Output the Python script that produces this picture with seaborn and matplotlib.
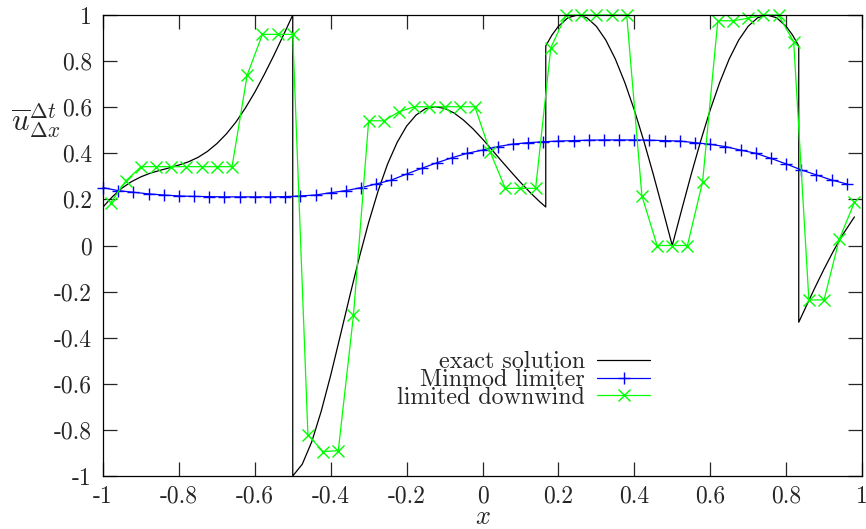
import numpy as np
import pandas as pd
import matplotlib
matplotlib.use("Agg")
import matplotlib.pyplot as plt
import seaborn as sns

# ---- data ----
# exact solution, four smooth pieces (jumps at -0.5, 1/6, 5/6)
xa = [-1.0, -0.975, -0.95, -0.925, -0.9, -0.875, -0.85, -0.825, -0.8, -0.775, -0.75,
      -0.725, -0.7, -0.675, -0.65, -0.625, -0.6, -0.575, -0.55, -0.525, -0.5]
ua = [0.167, 0.212, 0.249, 0.277, 0.298, 0.314, 0.326, 0.337, 0.349, 0.363, 0.382,
      0.408, 0.442, 0.484, 0.535, 0.596, 0.665, 0.742, 0.824, 0.911, 1.0]
xb = [-0.5, -0.475, -0.45, -0.425, -0.4, -0.375, -0.35, -0.325, -0.3, -0.275, -0.25,
      -0.225, -0.2, -0.175, -0.15, -0.125, -0.1, -0.075, -0.05, -0.025, 0.0, 0.025,
      0.05, 0.075, 0.1, 0.125, 0.15, 0.1667]
ub = [-1.0, -0.949, -0.852, -0.719, -0.563, -0.393, -0.221, -0.054, 0.100, 0.237, 0.354,
      0.447, 0.518, 0.566, 0.594, 0.602, 0.595, 0.575, 0.544, 0.506, 0.462, 0.415,
      0.367, 0.320, 0.274, 0.231, 0.191, 0.167]
xc = [0.1667, 0.183, 0.2, 0.225, 0.25, 0.275, 0.3, 0.325, 0.35, 0.375, 0.4, 0.425, 0.45,
      0.475, 0.5, 0.525, 0.55, 0.575, 0.6, 0.625, 0.65, 0.675, 0.7, 0.725, 0.75, 0.775,
      0.8, 0.817, 0.8333]
uc = [0.866, 0.913, 0.951, 0.988, 1.0, 0.988, 0.951, 0.891, 0.809, 0.707, 0.588, 0.454, 0.309,
      0.156, 0.0, 0.156, 0.309, 0.454, 0.588, 0.707, 0.809, 0.891, 0.951, 0.988, 1.0, 0.988,
      0.951, 0.913, 0.866]
xd = [0.8333, 0.85, 0.875, 0.9, 0.925, 0.95, 0.98]
ud = [-0.333, -0.274, -0.186, -0.102, -0.023, 0.049, 0.124]

# Minmod limiter (points at -1, -0.96, ..., 0.96)
x_minmod = [round(-1.0 + 0.04 * k, 2) for k in range(50)]
u_minmod = [0.251, 0.238, 0.231, 0.224, 0.219, 0.215, 0.213, 0.212, 0.211, 0.211,
            0.211, 0.211, 0.212, 0.215, 0.219, 0.229, 0.238, 0.251, 0.267, 0.284,
            0.310, 0.335, 0.359, 0.381, 0.400, 0.414, 0.429, 0.440, 0.446, 0.450,
            0.453, 0.455, 0.457, 0.458, 0.458, 0.458, 0.457, 0.455, 0.453, 0.446,
            0.439, 0.429, 0.414, 0.400, 0.378, 0.354, 0.328, 0.306, 0.284, 0.267]

# limited downwind (points at -0.98, -0.94, ..., 0.98)
x_down = [round(-0.98 + 0.04 * k, 2) for k in range(50)]
u_down = [0.185, 0.280, 0.342, 0.342, 0.342, 0.342, 0.342, 0.342, 0.342, 0.740,
          0.916, 0.916, 0.916, -0.822, -0.894, -0.890, -0.302, 0.541, 0.541, 0.580,
          0.602, 0.602, 0.602, 0.602, 0.602, 0.407, 0.248, 0.248, 0.248, 0.858,
          1.0, 1.0, 1.0, 1.0, 1.0, 0.216, 0.0, 0.0, 0.0, 0.277,
          0.975, 0.975, 0.986, 1.0, 1.0, 0.884, -0.236, -0.236, 0.027, 0.187]

xticks = [-1, -0.8, -0.6, -0.4, -0.2, 0, 0.2, 0.4, 0.6, 0.8, 1]
xticklabels = ["-1", "-0.8", "-0.6", "-0.4", "-0.2", "0", "0.2", "0.4", "0.6", "0.8", "1"]
yticks = [-1, -0.8, -0.6, -0.4, -0.2, 0, 0.2, 0.4, 0.6, 0.8, 1]
yticklabels = ["-1", "-0.8", "-0.6", "-0.4", "-0.2", "0", "0.2", "0.4", "0.6", "0.8", "1"]

# ---- style ----
sns.set_style("ticks")
plt.rcParams["font.family"] = ["cmr10", "DejaVu Serif"]
plt.rcParams["mathtext.fontset"] = "cm"
plt.rcParams["axes.formatter.use_mathtext"] = True
plt.rcParams["axes.unicode_minus"] = False
FS = 17
BLUE = "#0000ff"
GREEN = "#00ff00"

fig = plt.figure(figsize=(8.66, 5.29), dpi=100)
ax = fig.add_axes([103 / 866, 1 - 476 / 529, 759 / 866, 461 / 529])

exact = pd.DataFrame({"x": xa + xb + xc + xd, "u": ua + ub + uc + ud})
minmod = pd.DataFrame({"x": x_minmod, "u": u_minmod})
down = pd.DataFrame({"x": x_down, "u": u_down})

sns.lineplot(data=exact, x="x", y="u", sort=False, estimator=None, ax=ax,
             color="black", lw=0.9, label="exact solution")
sns.lineplot(data=minmod, x="x", y="u", sort=False, estimator=None, ax=ax,
             color=BLUE, lw=0.9, marker="+", markersize=9, markeredgewidth=1.0,
             markeredgecolor=BLUE, label="Minmod limiter", clip_on=False)
sns.lineplot(data=down, x="x", y="u", sort=False, estimator=None, ax=ax,
             color=GREEN, lw=0.9, marker="x", markersize=8, markeredgewidth=1.0,
             markeredgecolor=GREEN, label="limited downwind", clip_on=False)

ax.set_xlim(-1, 1)
ax.set_ylim(-1, 1)
ax.set_xticks(xticks)
ax.set_xticklabels(xticklabels)
ax.set_yticks(yticks)
ax.set_yticklabels(yticklabels)
ax.tick_params(direction="in", length=10, width=0.9, top=True, right=True,
               labelsize=FS, pad=8)
ax.tick_params(axis="x", pad=7)
for s in ax.spines.values():
    s.set_linewidth(0.9)
    s.set_color("black")

ax.set_xlabel("$x$", fontsize=FS + 2)
ax.xaxis.set_label_coords((483 - 103) / 759, (476 - 517) / 461)
ax.xaxis.label.set_va("center")
ax.set_ylabel(r"$\overline{u}_{\Delta x}^{\Delta t}$", fontsize=FS + 5, rotation=0)
ax.yaxis.set_label_coords((36 - 103) / 759, (476 - 121) / 461)
ax.yaxis.label.set_va("center")
ax.yaxis.label.set_ha("center")

leg = ax.legend(loc="center right", bbox_to_anchor=((650 - 103) / 759, (476 - 380) / 461),
                frameon=False, markerfirst=False, fontsize=FS + 0.3, handlelength=2.2,
                handletextpad=0.5, labelspacing=-0.18, borderpad=0, borderaxespad=0)

fig.savefig("out.png", dpi=100)
